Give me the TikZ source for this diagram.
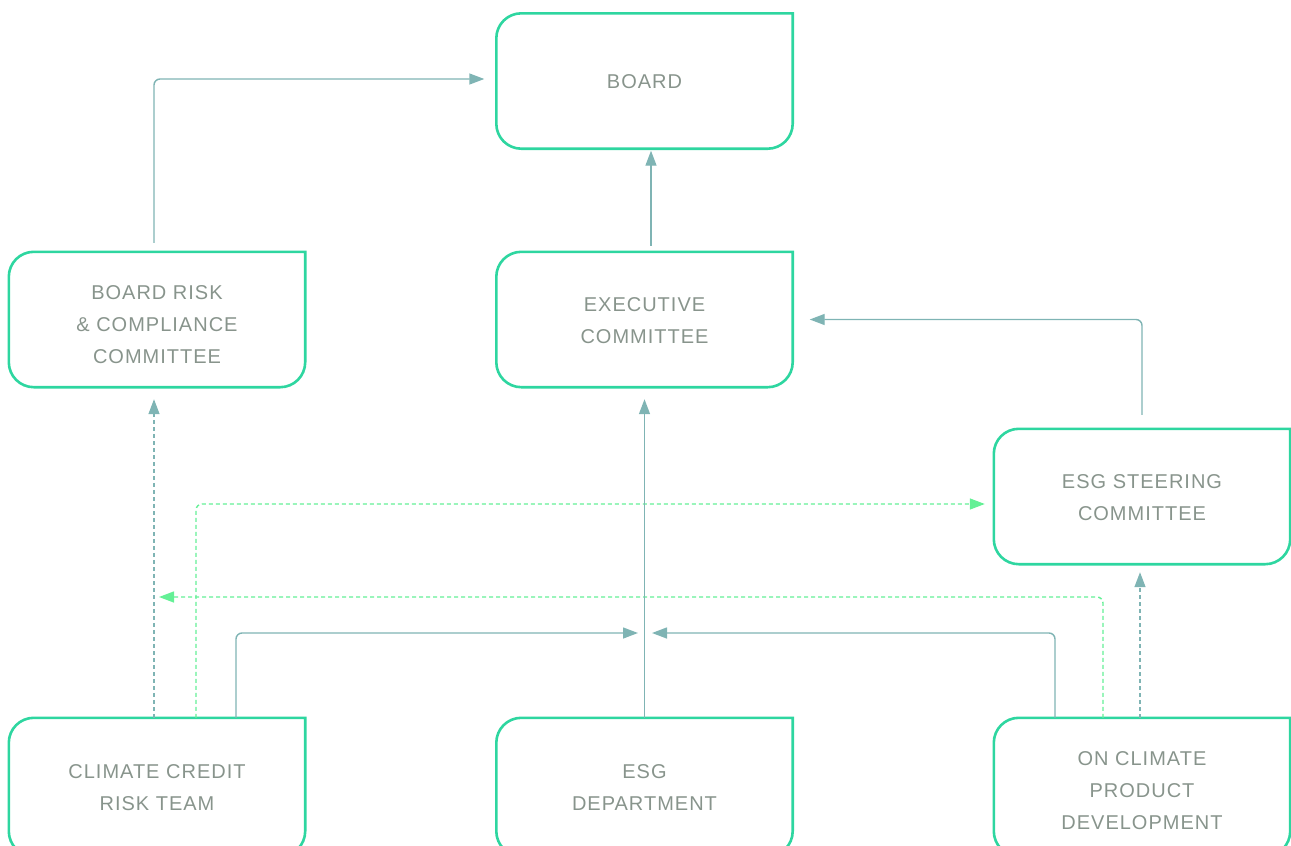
\documentclass[tikz,border=0pt]{standalone}
\usepackage{fontspec}
\setmainfont[LetterSpace=5]{Liberation Sans}
\usetikzlibrary{arrows.meta,calc}
\definecolor{boxgreen}{RGB}{46,214,160}
\definecolor{txtgray}{RGB}{136,148,140}
\definecolor{teal}{RGB}{127,180,180}
\definecolor{lgreen}{RGB}{100,240,150}
\tikzset{
  boxnode/.style={minimum width=296pt, minimum height=135pt, inner sep=0pt},
  tallbox/.style={boxnode, minimum height=138pt},
  txt/.style={inner sep=0pt, align=center, text=txtgray, font=\fontsize{20}{32}\selectfont},
  boxline/.style={draw=boxgreen, line width=2.6pt},
  conn/.style={draw=teal, line width=1.4pt, rounded corners=6pt, -{Triangle[length=15pt,width=11pt]}},
  dconn/.style={conn, dash pattern=on 4pt off 3pt},
  gconn/.style={conn, draw=lgreen, dash pattern=on 4pt off 3pt, {-Triangle[length=15pt,width=11pt,fill=lgreen]}},
}
\newcommand\bxo[1]{%
  \draw[boxline] (#1.north east) -- ([yshift=25pt]#1.south east)
    arc[start angle=0,end angle=-90,radius=25pt] -- ([xshift=25pt]#1.south west)
    arc[start angle=270,end angle=180,radius=25pt] -- ([yshift=-25pt]#1.north west)
    arc[start angle=180,end angle=90,radius=25pt] -- cycle;}
\begin{document}
\begin{tikzpicture}[x=1pt,y=1pt]
\useasboundingbox (0,0) rectangle (1291,-846);
\clip (0,0) rectangle (1291,-846);
\node[boxnode] (board) at (644.5,-81) {};
\node[boxnode] (brc) at (157,-319.5) {};
\node[boxnode] (exec) at (644.5,-319.5) {};
\node[boxnode] (esgsc) at (1142,-496.5) {};
\node[tallbox] (ccr) at (157,-787) {};
\node[tallbox] (esgd) at (644.5,-787) {};
\node[tallbox] (onc) at (1142,-787) {};
\foreach \n in {board,brc,exec,esgsc,ccr,esgd,onc} {\bxo{\n}}
\node[txt] (boardt) at ([yshift=-1pt]board.center) {BOARD};
\node[txt] (brct) at ([yshift=-5pt]brc.center) {BOARD RISK\\\& COMPLIANCE\\COMMITTEE};
\node[txt] (exect) at ([yshift=-1pt]exec.center) {EXECUTIVE\\COMMITTEE};
\node[txt] (esgsct) at ([yshift=-1pt]esgsc.center) {ESG STEERING\\COMMITTEE};
\node[txt] (ccrt) at ([yshift=-1pt]ccr.center) {CLIMATE CREDIT\\RISK TEAM};
\node[txt] (esgdt) at ([yshift=-1pt]esgd.center) {ESG\\DEPARTMENT};
\node[txt] (onct) at ([yshift=-4pt]onc.center) {ON CLIMATE\\PRODUCT\\DEVELOPMENT};
\coordinate (gtip) at (159,-597);
\coordinate (ltip) at (638,-633);
\coordinate (rtip) at (652,-633);
% connectors
\draw[conn] ([shift={(-3pt,9pt)}]brc.north) |- ([shift={(-12pt,2pt)}]board.west);
\draw[conn] ([shift={(6.5pt,6pt)}]exec.north) -- ([shift={(6.5pt,-2pt)}]board.south);
\draw[conn] ([yshift=14pt]esgsc.north) |- ([xshift=17pt]exec.east);
\draw[dconn] ([xshift=-3pt]ccr.north) -- ([shift={(-3pt,-12pt)}]brc.south);
\draw[gconn] ([xshift=39pt]ccr.north) |- ([shift={(-9pt,-7.5pt)}]esgsc.west);
\draw[gconn] ([xshift=-39pt]onc.north) |- (gtip);
\draw[conn] ([xshift=79pt]ccr.north) |- (ltip);
\draw[conn] ([xshift=-87pt]onc.north) |- (rtip);
\draw[conn, rounded corners=0pt] (esgd.north) -- ([yshift=-12pt]exec.south);
\draw[dconn] ([xshift=-2pt]onc.north) -- ([shift={(-2pt,-8pt)}]esgsc.south);
\end{tikzpicture}
\end{document}
